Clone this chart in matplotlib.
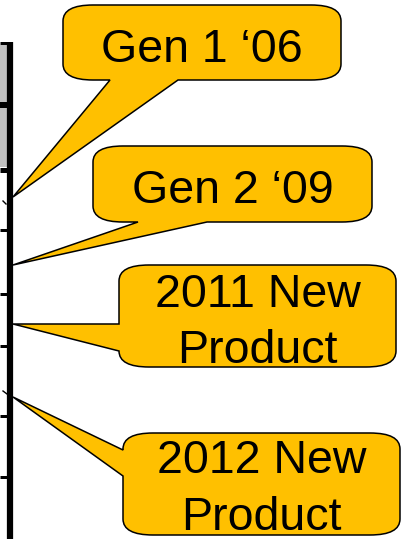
import matplotlib.pyplot as plt
from matplotlib.path import Path
from matplotlib.patches import PathPatch, Rectangle

plt.rcParams['font.family'] = ['Liberation Sans', 'DejaVu Sans']

# callout texts, top to bottom
labels = ["Gen 1 \u201806", "Gen 2 \u201809", "2011 New\nProduct", "2012 New\nProduct"]

# row boundaries of the timeline strip on the left (pixel rows)
row_lines = [43, 105, 169.5, 230, 294, 345.5, 415.5, 476.5]
row_widths = [3, 6, 5, 3, 3, 3, 3, 3]
shaded_rows = [(45, 102), (108, 167)]

# layout: box (x0, y0, x1, y1), pointer side, base span, tip point
boxes = [
    ((63, 5, 341, 80), 'bottom', (110, 178), (13, 197)),
    ((93, 146, 372, 222), 'bottom', (138, 207), (13, 265)),
    ((119, 265, 396, 367), 'left', (324, 351), (13, 324)),
    ((123, 433, 400, 535), 'left', (450, 476), (13, 397)),
]
baselines = [[62], [203], [307, 363], [473, 530]]

GOLD = '#FFC000'


def callout_path(box, side, base, tip, rx=30, ry=16):
    x0, y0, x1, y1 = box
    M, L, C = Path.MOVETO, Path.LINETO, Path.CURVE3
    v = [(x0 + rx, y0), (x1 - rx, y0), (x1, y0), (x1, y0 + ry),
         (x1, y1 - ry), (x1, y1), (x1 - rx, y1)]
    c = [M, L, C, C, L, C, C]
    if side == 'bottom':
        v += [(base[1], y1), tip, (base[0], y1)]
        c += [L, L, L]
    v += [(x0 + rx, y1), (x0, y1), (x0, y1 - ry)]
    c += [L, C, C]
    if side == 'left':
        v += [(x0, base[1]), tip, (x0, base[0])]
        c += [L, L, L]
    v += [(x0, y0 + ry), (x0, y0), (x0 + rx, y0), (x0 + rx, y0)]
    c += [L, C, C, Path.CLOSEPOLY]
    return Path(v, c)


fig = plt.figure(figsize=(4.02, 5.39), dpi=100)
ax = fig.add_axes([0, 0, 1, 1])
ax.set_xlim(0, 402)
ax.set_ylim(539, 0)
ax.axis('off')

# timeline strip
for top, bot in shaded_rows:
    ax.add_patch(Rectangle((0, top), 8, bot - top, facecolor='#C0C0C0',
                           edgecolor='none'))
for y, w in zip(row_lines, row_widths):
    ax.plot([0, 9], [y, y], color='black', lw=w * 0.72, solid_capstyle='butt')
ax.plot([10, 10], [42, 539], color='black', lw=4.5, solid_capstyle='butt')
ax.plot([3, 6], [201, 204], color='black', lw=1.0)
ax.plot([3, 7], [391, 394], color='black', lw=1.0)

for lab, (box, side, base, tip), bl in zip(labels, boxes, baselines):
    ax.add_patch(PathPatch(callout_path(box, side, base, tip), facecolor=GOLD,
                           edgecolor='black', lw=1.1, joinstyle='miter'))
    cx = (box[0] + box[2]) / 2
    for line, y in zip(lab.split('\n'), bl):
        ax.text(cx, y, line, ha='center', va='baseline', fontsize=33.5,
                color='black')

fig.savefig('out.png', dpi=100)
